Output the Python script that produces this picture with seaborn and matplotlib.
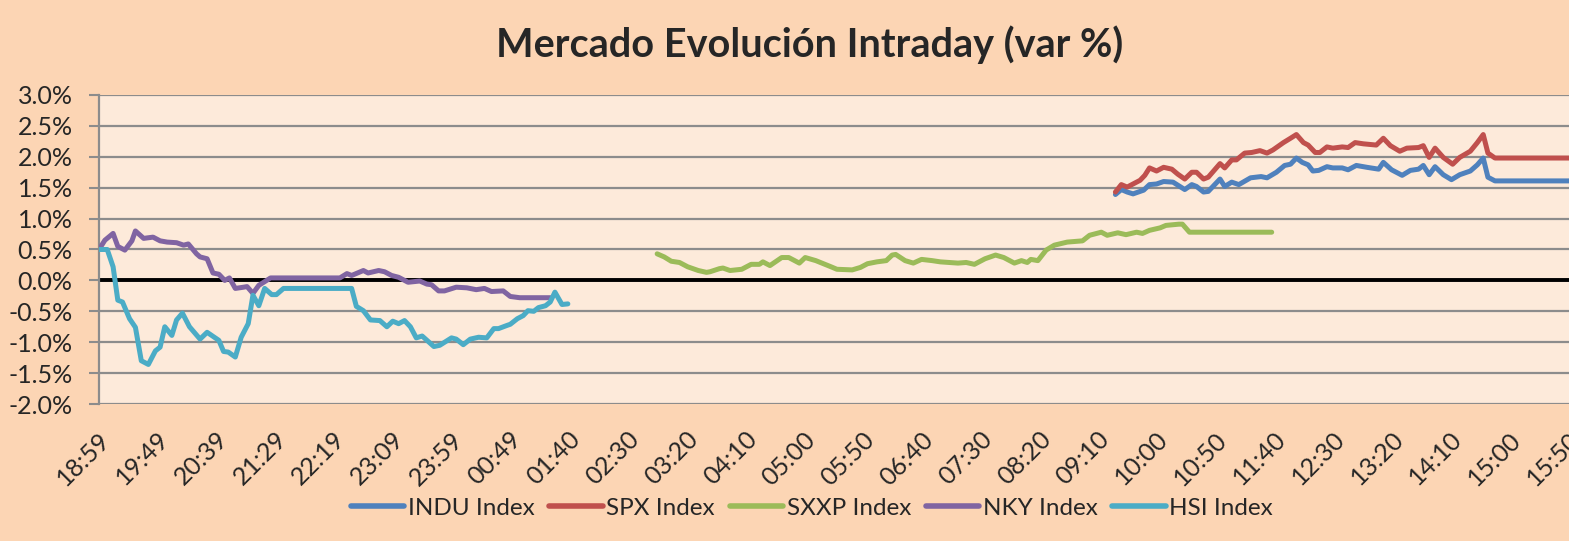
import pandas as pd
import matplotlib.pyplot as plt
import matplotlib.ticker as mticker
import matplotlib.transforms as mtransforms
import seaborn as sns

# Style
sns.set_style("white")
plt.rcParams['font.family'] = ['Lato', 'DejaVu Sans']

# Data: minutes after 18:59 and % change
indu_min = [865, 870, 875, 880, 889, 894, 900, 906, 914, 924, 930, 934, 940, 944, 954, 958, 964, 970,
            980, 989, 994, 1002, 1009, 1014, 1019, 1024, 1029, 1033, 1038, 1045, 1050, 1058, 1063,
            1070, 1079, 1089, 1093, 1100, 1109, 1116, 1123, 1127, 1132, 1137, 1144, 1151, 1158, 1167,
            1173, 1178, 1182, 1188, 1251]
indu_val = [1.39, 1.47, 1.43, 1.40, 1.46, 1.55, 1.56, 1.60, 1.59, 1.47, 1.55, 1.52, 1.43, 1.44, 1.64,
            1.52, 1.59, 1.55, 1.66, 1.68, 1.66, 1.75, 1.86, 1.88, 1.98, 1.91, 1.87, 1.77, 1.78, 1.84,
            1.82, 1.82, 1.79, 1.86, 1.83, 1.80, 1.91, 1.79, 1.70, 1.78, 1.80, 1.86, 1.71, 1.84, 1.71,
            1.63, 1.71, 1.77, 1.87, 1.98, 1.67, 1.61, 1.61]

spx_min = [865, 870, 875, 880, 886, 890, 894, 900, 906, 913, 918, 924, 930, 934, 940, 944, 954, 958,
           964, 968, 975, 981, 988, 994, 999, 1008, 1014, 1019, 1025, 1029, 1035, 1039, 1045, 1050,
           1058, 1063, 1069, 1076, 1087, 1093, 1099, 1107, 1113, 1123, 1127, 1132, 1137, 1144, 1152,
           1158, 1167, 1173, 1178, 1182, 1188, 1251]
spx_val = [1.43, 1.55, 1.51, 1.56, 1.62, 1.70, 1.82, 1.77, 1.83, 1.80, 1.72, 1.64, 1.75, 1.75, 1.64,
           1.67, 1.89, 1.82, 1.95, 1.95, 2.06, 2.07, 2.10, 2.06, 2.11, 2.23, 2.30, 2.36, 2.23, 2.19,
           2.07, 2.07, 2.16, 2.14, 2.16, 2.15, 2.23, 2.21, 2.19, 2.30, 2.18, 2.09, 2.14, 2.15, 2.18,
           1.99, 2.14, 1.99, 1.88, 1.99, 2.09, 2.23, 2.36, 2.06, 1.98, 1.98]

sxxp_min = [475, 481, 487, 494, 501, 510, 517, 520, 528, 531, 537, 547, 555, 562, 565, 571, 581, 587,
            596, 601, 610, 623, 628, 641, 648, 654, 662, 670, 675, 678, 686, 693, 700, 709, 716, 731,
            738, 745, 754, 763, 770, 779, 785, 790, 793, 799, 806, 813, 824, 837, 843, 853, 858, 867,
            874, 883, 888, 894, 903, 908, 919, 922, 928, 998]
sxxp_val = [0.43, 0.38, 0.31, 0.29, 0.22, 0.16, 0.13, 0.14, 0.19, 0.20, 0.16, 0.18, 0.26, 0.26, 0.30,
            0.24, 0.37, 0.37, 0.28, 0.37, 0.32, 0.22, 0.18, 0.17, 0.21, 0.27, 0.30, 0.32, 0.41, 0.42,
            0.32, 0.28, 0.34, 0.32, 0.30, 0.28, 0.29, 0.26, 0.35, 0.41, 0.37, 0.28, 0.32, 0.29, 0.34,
            0.32, 0.49, 0.57, 0.62, 0.64, 0.73, 0.78, 0.73, 0.77, 0.74, 0.78, 0.76, 0.81, 0.85, 0.89,
            0.91, 0.91, 0.78, 0.78]

nky_min = [0, 5, 12, 16, 22, 28, 31, 38, 46, 52, 58, 66, 72, 76, 83, 86, 92, 97, 102, 107, 111, 116,
           123, 126, 131, 136, 146, 205, 211, 215, 225, 229, 238, 243, 249, 255, 263, 273, 279, 283,
           289, 294, 304, 313, 321, 328, 334, 344, 350, 358, 384]
nky_val = [0.50, 0.65, 0.76, 0.55, 0.49, 0.64, 0.80, 0.68, 0.70, 0.64, 0.62, 0.61, 0.57, 0.59, 0.43,
           0.38, 0.35, 0.12, 0.10, 0.00, 0.04, -0.13, -0.11, -0.10, -0.21, -0.08, 0.04, 0.04, 0.11,
           0.08, 0.16, 0.12, 0.16, 0.14, 0.08, 0.05, -0.03, -0.01, -0.06, -0.07, -0.17, -0.17, -0.11,
           -0.12, -0.15, -0.13, -0.18, -0.17, -0.26, -0.28, -0.28]

hsi_min = [0, 7, 12, 16, 20, 26, 31, 36, 42, 48, 52, 56, 62, 66, 71, 77, 86, 92, 102, 106, 110, 116,
           121, 127, 131, 136, 141, 147, 151, 157, 215, 219, 225, 231, 239, 245, 250, 255, 260, 265,
           270, 275, 285, 290, 300, 304, 310, 316, 323, 330, 336, 340, 347, 350, 356, 361, 365, 370,
           374, 380, 384, 388, 394, 399]
hsi_val = [0.50, 0.50, 0.22, -0.32, -0.35, -0.62, -0.76, -1.30, -1.36, -1.14, -1.08, -0.75, -0.89,
           -0.64, -0.53, -0.75, -0.95, -0.84, -0.97, -1.15, -1.16, -1.24, -0.92, -0.70, -0.24, -0.41,
           -0.13, -0.23, -0.23, -0.13, -0.13, -0.42, -0.49, -0.64, -0.65, -0.75, -0.66, -0.70, -0.65,
           -0.75, -0.93, -0.90, -1.07, -1.05, -0.93, -0.95, -1.04, -0.95, -0.92, -0.93, -0.78, -0.78,
           -0.73, -0.71, -0.62, -0.57, -0.49, -0.50, -0.44, -0.41, -0.35, -0.19, -0.39, -0.38]

series_names = ['INDU Index', 'SPX Index', 'SXXP Index', 'NKY Index', 'HSI Index']
series_colors = ['#4F81BD', '#C0504D', '#9BBB59', '#8064A2', '#4BACC6']

tick_labels = ['18:59', '19:49', '20:39', '21:29', '22:19', '23:09', '23:59', '00:49', '01:40',
               '02:30', '03:20', '04:10', '05:00', '05:50', '06:40', '07:30', '08:20', '09:10',
               '10:00', '10:50', '11:40', '12:30', '13:20', '14:10', '15:00', '15:50']
total_min = 1251

# Build one long dataframe
frames = []
for name, mins, vals in zip(series_names,
                            [indu_min, spx_min, sxxp_min, nky_min, hsi_min],
                            [indu_val, spx_val, sxxp_val, nky_val, hsi_val]):
    frames.append(pd.DataFrame({'min': mins, 'var': vals, 'Index': name}))
df = pd.concat(frames, ignore_index=True)

# Figure
fig = plt.figure(figsize=(15.69, 5.41), dpi=100, facecolor='#FCD5B4')
ax = fig.add_axes([99 / 1569, 1 - 404 / 541, 1 - 99 / 1569, (404 - 95) / 541])
ax.set_facecolor('#FDEADA')

# Gridlines and zero axis
for v in [-2.0, -1.5, -1.0, -0.5, 0.5, 1.0, 1.5, 2.0, 2.5, 3.0]:
    ax.axhline(v, color='#8C8C8C', lw=1.6, zorder=1)
ax.axhline(0, color='black', lw=2.8, zorder=2)

sns.lineplot(data=df, x='min', y='var', hue='Index', hue_order=series_names,
             palette=dict(zip(series_names, series_colors)), estimator=None, sort=False,
             linewidth=3.6, legend=False, ax=ax, zorder=3)

ax.set_xlim(0, total_min)
ax.set_ylim(-2.0, 3.0)
ax.set_xlabel('')
ax.set_ylabel('')

# Axis formatting
ax.set_yticks([-2.0, -1.5, -1.0, -0.5, 0.0, 0.5, 1.0, 1.5, 2.0, 2.5, 3.0])
ax.yaxis.set_major_formatter(mticker.FuncFormatter(lambda v, p: f'{v:.1f}%'))
ax.tick_params(axis='y', labelsize=18, length=7, width=1.5, color='#8C8C8C', left=True, pad=12)
tick_pos = [i * total_min / (len(tick_labels) - 1) for i in range(len(tick_labels))]
ax.set_xticks(tick_pos)
ax.set_xticklabels(tick_labels, rotation=45, ha='right', va='top', rotation_mode='anchor')
ax.tick_params(axis='x', labelsize=18, length=0, pad=17)
shift = mtransforms.ScaledTranslation(-1 / 100, 0, fig.dpi_scale_trans)
for lbl in ax.get_xticklabels():
    lbl.set_transform(lbl.get_transform() + shift)

for s in ['top', 'right', 'bottom']:
    ax.spines[s].set_visible(False)
ax.spines['left'].set_color('#8C8C8C')
ax.spines['left'].set_linewidth(1.6)

# Title
fig.text(810 / 1569, 1 - 45 / 541, 'Mercado Evolución Intraday (var %)', ha='center', va='center',
         fontsize=28.5, fontweight='bold')

# Legend
handles = [plt.Line2D([], [], color=c, lw=4) for c in series_colors]
fig.legend(handles, series_names, loc='center', bbox_to_anchor=(812 / 1569, 1 - 508 / 541),
           ncol=5, frameon=False, fontsize=17.5, handlelength=2.2, columnspacing=0.6,
           handletextpad=0.15)

plt.savefig('out.png', dpi=100, facecolor=fig.get_facecolor())
